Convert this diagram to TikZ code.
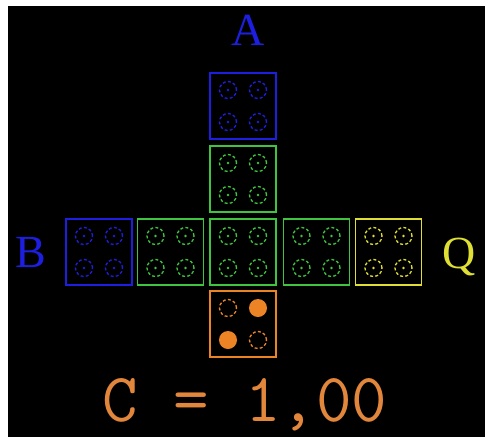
\documentclass[tikz,border=0pt]{standalone}
\usepackage{fontspec}
\setmainfont{Liberation Serif}
\usepackage{tikz}
\definecolor{dieblue}{RGB}{30,30,225}
\definecolor{diegreen}{RGB}{62,196,62}
\definecolor{dieyellow}{RGB}{222,222,52}
\definecolor{dieorange}{RGB}{236,132,38}
\definecolor{textorange}{RGB}{226,134,60}

\begin{document}
\begin{tikzpicture}[x=1pt,y=-1pt,
		die/.style={draw,line width=1.4pt,minimum size=66pt,inner sep=0pt},
		pip/.style={dash pattern=on 3pt off 2.2pt,line width=1.3pt},
		lab/.style={anchor=base,font=\fontsize{46}{46}\selectfont}]
			\useasboundingbox (0,0) rectangle (485,437);
			\fill[black] (8,6) rectangle (485,437);
			% the dice
			\node[die,draw=dieblue] (a1) at (243,106) {};
			\node[die,draw=diegreen] (a2) at (243,179) {};
			\node[die,draw=dieblue] (b1) at (99,252) {};
			\node[die,draw=diegreen] (b2) at (170.5,252) {};
			\node[die,draw=diegreen] (mid) at (243,252) {};
			\node[die,draw=diegreen] (q2) at (316.5,252) {};
			\node[die,draw=dieyellow] (q1) at (388.5,252) {};
			\node[die,draw=dieorange] (c1) at (243,324) {};
			% the pips
			\foreach \d/\c in {a1/dieblue,a2/diegreen,b1/dieblue,b2/diegreen,mid/diegreen,q2/diegreen,q1/dieyellow}
				\foreach \dx in {-15,15}
					\foreach \dy in {-16,16} {
						\draw[pip,\c] ([shift={(\dx,\dy)}]\d.center) circle (8.5pt);
						\fill[\c] ([shift={(\dx,\dy)}]\d.center) circle (1.3pt);
					}
			\draw[pip,dieorange] ([shift={(-15,-16)}]c1.center) circle (8.5pt);
			\draw[pip,dieorange] ([shift={(15,16)}]c1.center) circle (8.5pt);
			\fill[dieorange] ([shift={(15,-16)}]c1.center) circle (9pt);
			\fill[dieorange] ([shift={(-15,16)}]c1.center) circle (9pt);
			% the labels
			\node[lab,dieblue] (la) at (248.5,45) {A};
			\node[lab,dieblue] (lb) at (31,267) {B};
			\node[lab,dieyellow] (lq) at (459,268) {Q};
			\node[anchor=base,textorange,font=\ttfamily\fontsize{69}{69}\selectfont] (val) at (245,421) {C = 1,00};
		\end{tikzpicture}
\end{document}
